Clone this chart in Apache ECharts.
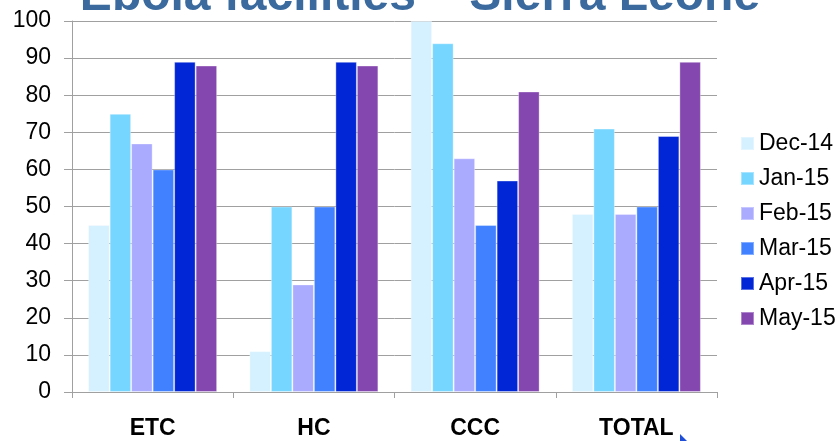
<!DOCTYPE html>
<html>
<head>
<meta charset="utf-8">
<script src="https://cdn.jsdelivr.net/npm/echarts@6/dist/echarts.min.js"></script>
<style>html,body{margin:0;padding:0;background:#fff;}#c{width:840px;height:441px;}</style>
</head>
<body>
<div id="c"></div>
<script>
var titleText = 'Ebola facilities – Sierra Leone';
var categories = ['ETC', 'HC', 'CCC', 'TOTAL'];
var seriesNames = ['Dec-14', 'Jan-15', 'Feb-15', 'Mar-15', 'Apr-15', 'May-15'];
var dec14 = [45, 11, 100, 48];
var jan15 = [75, 50, 94, 71];
var feb15 = [67, 29, 63, 48];
var mar15 = [60, 50, 45, 50];
var apr15 = [89, 89, 57, 69];
var may15 = [88, 88, 81, 89];
var yTicks = [0, 10, 20, 30, 40, 50, 60, 70, 80, 90, 100];

var colors = ['#D5F0FE', '#77D6FF', '#AAAAFF', '#4181FF', '#0026D6', '#8446AF'];
var values = [dec14, jan15, feb15, mar15, apr15, may15];
var FONT = '"Liberation Sans", Arial, sans-serif';

var chart = echarts.init(document.getElementById('c'), null, {renderer: 'canvas'});
chart.setOption({
  animation: false,
  backgroundColor: '#ffffff',
  color: colors,
  title: {
    text: titleText,
    left: 'center',
    top: -32,
    textStyle: {fontFamily: FONT, fontSize: 48, fontWeight: 'bold', color: '#3A6A9E'}
  },
  grid: {left: 72, right: 123, top: 21, bottom: 49},
  legend: {
    orient: 'vertical',
    left: 735,
    top: 127,
    itemWidth: 13,
    itemHeight: 13,
    itemGap: 12,
    icon: 'rect',
    textStyle: {fontFamily: FONT, fontSize: 23, color: '#000', lineHeight: 23, padding: [0, 0, 0, 0]},
    data: seriesNames
  },
  xAxis: {
    type: 'category',
    data: categories,
    axisLine: {lineStyle: {color: '#A0A0A0', width: 1}},
    axisTick: {show: true, length: 6, lineStyle: {color: '#A0A0A0'}},
    axisLabel: {fontFamily: FONT, fontSize: 23, fontWeight: 'bold', color: '#000', margin: 25}
  },
  yAxis: {
    type: 'value',
    min: yTicks[0],
    max: yTicks[yTicks.length - 1],
    interval: 10,
    axisLine: {show: true, lineStyle: {color: '#A0A0A0', width: 1}},
    axisTick: {show: true, length: 8, lineStyle: {color: '#A0A0A0'}},
    splitLine: {lineStyle: {color: '#A0A0A0', width: 1}},
    axisLabel: {fontFamily: FONT, fontSize: 23, color: '#000', margin: 21}
  },
  series: seriesNames.map(function (n, i) {
    return {
      name: n,
      type: 'bar',
      data: values[i],
      barGap: '0%',
      barCategoryGap: '20%',
      itemStyle: {color: colors[i], borderColor: 'rgba(255,255,255,0.35)', borderWidth: 1}
    };
  }),
  graphic: [{
    type: 'polygon',
    shape: {points: [[680, 434], [687, 441], [680, 441]]},
    style: {fill: '#1F4FD8'}
  }]
});
</script>
</body>
</html>
